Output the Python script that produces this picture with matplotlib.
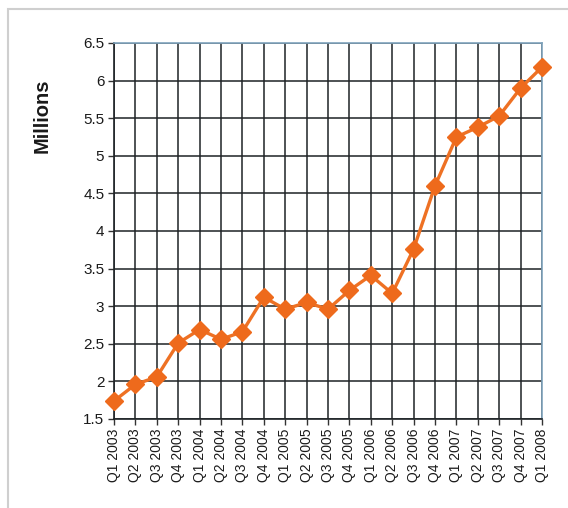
import matplotlib
matplotlib.use("Agg")
import matplotlib.pyplot as plt
from matplotlib.patches import Rectangle

quarters = ["Q1 2003", "Q2 2003", "Q3 2003", "Q4 2003",
            "Q1 2004", "Q2 2004", "Q3 2004", "Q4 2004",
            "Q1 2005", "Q2 2005", "Q3 2005", "Q4 2005",
            "Q1 2006", "Q2 2006", "Q3 2006", "Q4 2006",
            "Q1 2007", "Q2 2007", "Q3 2007", "Q4 2007",
            "Q1 2008"]
values = [1.74, 1.96, 2.06, 2.51, 2.69, 2.56, 2.66, 3.12, 2.96, 3.05,
          2.96, 3.21, 3.41, 3.17, 3.76, 4.60, 5.25, 5.38, 5.53, 5.90, 6.18]
yticks = [1.5, 2, 2.5, 3, 3.5, 4, 4.5, 5, 5.5, 6, 6.5]
ytick_labels = ["1.5", "2", "2.5", "3", "3.5", "4", "4.5", "5", "5.5", "6", "6.5"]

plt.rcParams['font.family'] = ['Liberation Sans', 'DejaVu Sans']

W, H = 568, 508
fig = plt.figure(figsize=(W / 100, H / 100), dpi=100)

# outer frame of the screenshot
fig.patches.append(Rectangle((8 / W, -0.05), 1.2, (H - 9) / H + 0.05,
                             transform=fig.transFigure, fill=False,
                             edgecolor='#cfcfcf', linewidth=1.5))

ax = fig.add_axes([114 / W, 1 - 419 / H, (542 - 114) / W, (419 - 43) / H])
x = list(range(len(quarters)))
ax.plot(x, values, color='#EE7124', linewidth=2.4, marker='D',
        markersize=9, markerfacecolor='#EE6A1C', markeredgecolor='#EE6A1C',
        zorder=5, clip_on=False)

ax.set_xlim(0, len(quarters) - 1)
ax.set_ylim(1.5, 6.5)
ax.set_xticks(x)
ax.set_xticklabels(quarters, rotation=90, fontsize=10, color='#1a1a1a')
ax.set_yticks(yticks)
ax.set_yticklabels(ytick_labels, fontsize=11, color='#1a1a1a')
ax.grid(True, color='#1e2326', linewidth=1.1)
ax.set_axisbelow(True)
ax.tick_params(axis='both', length=4, width=1, color='#333333', pad=3)
for s in ['left', 'bottom']:
    ax.spines[s].set_color('#1e2326')
    ax.spines[s].set_linewidth(1.2)
for s in ['top', 'right']:
    ax.spines[s].set_color('#7fa3bc')
    ax.spines[s].set_linewidth(1.2)

fig.text(42 / W, 1 - 116 / H, "Millions", rotation=90, fontsize=14.5,
         fontweight='bold', color='#1a1a1a', ha='center', va='center')

fig.savefig("out.png", dpi=100)
